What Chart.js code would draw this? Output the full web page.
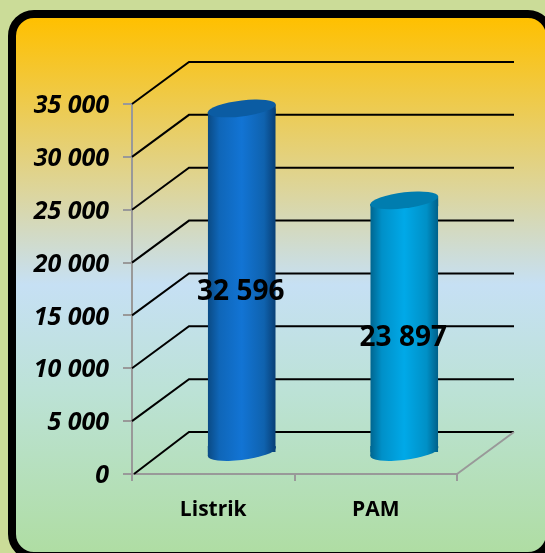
<!DOCTYPE html>
<html>
<head>
<meta charset="utf-8">
<script src="https://cdn.jsdelivr.net/npm/chart.js@4"></script>
<style>
  html,body{margin:0;padding:0;width:545px;height:553px;overflow:hidden;background:#cbdc98}
  #panel{position:absolute;left:8px;top:10px;width:530px;height:534px;border:8px solid #000;border-radius:26px;
    background:linear-gradient(to bottom,#ffc000 0%,#ddd59a 32%,#c6e0f4 50%,#bce2d6 70%,#afdda3 100%)}
  canvas{position:absolute;left:0;top:0}
</style>
</head>
<body>
<div id="panel"></div>
<canvas id="c" width="545" height="553"></canvas>
<script>
const categories = ['Listrik', 'PAM'];
const values = [32596, 23897];
const valueLabels = ['32 596', '23 897'];
const yTicks = [0, 5000, 10000, 15000, 20000, 25000, 30000, 35000];
const yMax = 35000;
const bodyColors = [
  ['#0a4a84', '#0f66b8', '#1274d4', '#0f62ae', '#083e74'],
  ['#00658f', '#0090c8', '#00a9e8', '#0090c6', '#005f88']
];
const topColors = ['#0b5ca3', '#007daf'];

// depth of the fake 3d box
const DX = 57, DY = -42;
// tilt of the cylinder ends
const TILT = 0.117, RY = 8;
const FONT = '"Open Sans", sans-serif';

function bodyGradient(chart, i) {
  const x = chart.scales.x.getPixelForValue(i), w = 34;
  // scale has no pixels yet on the very first resolve
  if (!isFinite(x)) return bodyColors[i][2];
  const g = chart.ctx.createLinearGradient(x - w, 0, x + w, 0);
  [0, .17, .5, .83, 1].forEach((p, k) => g.addColorStop(p, bodyColors[i][k]));
  return g;
}

function tiltedEllipse(ctx, x, y, rx) {
  // path in skewed space, fill outside it so the gradient stays put
  ctx.save();
  ctx.transform(1, -TILT, 0, 1, x, y);
  ctx.beginPath();
  ctx.ellipse(0, 0, rx, RY, 0, 0, Math.PI * 2);
  ctx.restore();
  ctx.fill();
}

function wedge(ctx, x, y, rx, flatY) {
  const d = rx * TILT;
  ctx.beginPath();
  ctx.moveTo(x - rx, flatY);
  ctx.lineTo(x + rx, flatY);
  ctx.lineTo(x + rx, y - d);
  ctx.lineTo(x - rx, y + d);
  ctx.closePath();
  ctx.fill();
}

const box3d = {
  id: 'box3d',
  beforeDatasetsDraw(chart) {
    const { ctx, scales: { y }, chartArea: a } = chart;
    ctx.save();
    ctx.strokeStyle = '#000';
    ctx.lineWidth = 2;
    yTicks.forEach(v => {
      const py = y.getPixelForValue(v);
      ctx.beginPath();
      ctx.moveTo(a.left + (v === 0 ? 2 : 0), py);
      ctx.lineTo(a.left + DX, py + DY);
      ctx.lineTo(a.right + DX, py + DY);
      ctx.stroke();
    });
    ctx.strokeStyle = '#999';
    ctx.beginPath();
    ctx.moveTo(a.right, a.bottom);
    ctx.lineTo(a.right + DX, a.bottom + DY);
    ctx.stroke();
    ctx.restore();
    // cylinders stand in the middle of the floor
    ctx.save();
    ctx.translate(DX / 2, DY / 2);
    // cut the bar tops along the tilted ends
    ctx.save();
    ctx.beginPath();
    chart.getDatasetMeta(0).data.forEach(b => {
      const rx = b.width / 2, d = rx * TILT;
      ctx.moveTo(b.x - rx, b.y + d);
      ctx.lineTo(b.x + rx, b.y - d);
      ctx.lineTo(b.x + rx, b.base);
      ctx.lineTo(b.x - rx, b.base);
      ctx.closePath();
    });
    ctx.clip();
  },
  afterDatasetsDraw(chart) {
    const { ctx } = chart;
    ctx.restore();
    const bars = chart.getDatasetMeta(0).data;
    bars.forEach((b, i) => {
      const rx = b.width / 2;
      ctx.fillStyle = bodyGradient(chart, i);
      wedge(ctx, b.x, b.base, rx, b.base - 6);
      tiltedEllipse(ctx, b.x, b.base, rx);
      wedge(ctx, b.x, b.y, rx, b.y + 6);
      ctx.fillStyle = topColors[i];
      tiltedEllipse(ctx, b.x, b.y, rx);
    });
    ctx.fillStyle = '#000';
    ctx.font = 'bold 28px ' + FONT;
    ctx.textAlign = 'center';
    ctx.textBaseline = 'middle';
    bars.forEach((b, i) => {
      ctx.fillText(valueLabels[i], b.x - 1, (b.y + b.base) / 2 + 12);
    });
    ctx.restore();
  }
};

new Chart(document.getElementById('c'), {
  type: 'bar',
  data: {
    labels: categories,
    datasets: [{
      data: values,
      clip: false,
      borderWidth: 0,
      barPercentage: 0.418,
      categoryPercentage: 1,
      backgroundColor: c => bodyGradient(c.chart, c.dataIndex)
    }]
  },
  options: {
    responsive: false,
    animation: false,
    devicePixelRatio: 1,
    layout: { padding: { left: 0, top: 104, right: 88, bottom: 0 } },
    plugins: { legend: { display: false }, tooltip: { enabled: false } },
    scales: {
      x: {
        afterFit: s => { s.height = 79; },
        grid: { drawOnChartArea: false, color: '#999', tickLength: 7, lineWidth: 2 },
        border: { color: '#999', width: 2 },
        ticks: { color: '#000', padding: 16, font: { family: FONT, size: 21, weight: 'bold' } }
      },
      y: {
        min: 0,
        max: yMax,
        afterFit: s => { s.width = 132; },
        afterBuildTicks: s => { s.ticks = yTicks.map(v => ({ value: v })); },
        grid: { drawOnChartArea: false, color: '#999', tickLength: 9, lineWidth: 2 },
        border: { color: '#999', width: 2 },
        ticks: {
          color: '#000',
          padding: 14,
          labelOffset: 2,
          font: { family: FONT, size: 25, weight: 'bold', style: 'italic' },
          callback: v => String(v).replace(/\B(?=(\d{3})+$)/g, ' ')
        }
      }
    }
  },
  plugins: [box3d]
});
</script>
</body>
</html>
